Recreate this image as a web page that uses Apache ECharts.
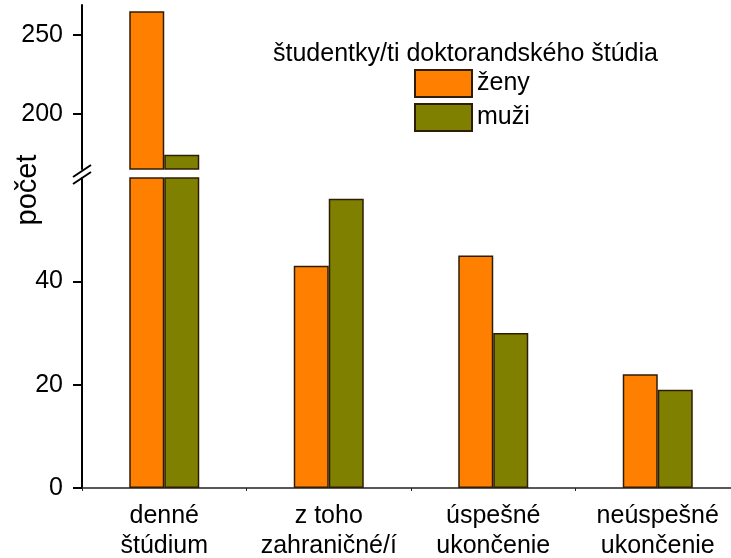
<!DOCTYPE html>
<html>
<head>
<meta charset="utf-8">
<script src="https://cdn.jsdelivr.net/npm/echarts@6/dist/echarts.min.js"></script>
<style>html,body{margin:0;padding:0;background:#fff}#c{width:731px;height:558px}</style>
</head>
<body>
<div id="c"></div>
<script>
const categories = ['denné\nštúdium', 'z toho\nzahraničné/í', 'úspešné\nukončenie', 'neúspešné\nukončenie'];
const zeny = [265, 43, 45, 22];
const muzi = [174, 56, 30, 19];
const seriesNames = ['ženy', 'muži'];
const legendTitle = 'študentky/ti doktorandského štúdia';
const yTitle = 'počet';
const lowerTicks = [0, 20, 40];
const lowerMinor = [10, 30, 50];
const upperTicks = [200, 250];
const upperMinor = [175, 225];

const FONT = "'Liberation Sans', Arial, sans-serif";
const lowerRange = [0, 60];
const upperRange = [165, 269];
const colors = ['#FF8000', '#808000'];
const border = '#2e1c04';

const chart = echarts.init(document.getElementById('c'), null, {renderer: 'canvas'});

function yAx(gi, range, ticks, labels, len, showLine) {
  return {
    type: 'value', gridIndex: gi, min: range[0], max: range[1],
    axisLine: {show: showLine, lineStyle: {color: '#000', width: 2}},
    axisTick: {show: true, inside: false, length: len, customValues: ticks, lineStyle: {color: '#000', width: 2}},
    axisLabel: labels ? {show: true, customValues: ticks, margin: 19, fontSize: 25, color: '#000', fontFamily: FONT} : {show: false},
    splitLine: {show: false}
  };
}

const upperOf = arr => arr.map(v => v > upperRange[0] ? v : '-');

function bar(name, data, xi, yi, color) {
  return {
    name: name, type: 'bar', xAxisIndex: xi, yAxisIndex: yi, data: data,
    barWidth: 35, barGap: '0%', clip: true,
    itemStyle: {color: color, borderColor: border, borderWidth: 1.5}
  };
}

chart.setOption({
  animation: false,
  textStyle: {fontFamily: FONT},
  title: {
    text: legendTitle, left: 268, top: 37,
    textStyle: {fontSize: 25, fontWeight: 'normal', color: '#000', fontFamily: FONT}
  },
  legend: {
    orient: 'vertical', left: 409, top: 64, itemWidth: 57, itemHeight: 27, itemGap: 5,
    icon: 'rect', data: seriesNames,
    textStyle: {fontSize: 25, color: '#000', fontFamily: FONT}
  },
  grid: [
    {left: 82, top: 178, width: 658, height: 310, outerBoundsMode: 'none', containLabel: false},
    {left: 82, top: 5, width: 658, height: 164, outerBoundsMode: 'none', containLabel: false}
  ],
  xAxis: [
    {
      type: 'category', gridIndex: 0, data: categories,
      axisLine: {lineStyle: {color: '#222', width: 1.5}},
      axisTick: {show: true, length: 3, lineStyle: {color: '#222'}},
      axisLabel: {fontSize: 25, lineHeight: 30, color: '#000', margin: 13, fontFamily: FONT, interval: 0}
    },
    {
      type: 'category', gridIndex: 1, data: categories,
      axisLine: {show: false}, axisTick: {show: false}, axisLabel: {show: false}
    }
  ],
  yAxis: [
    yAx(0, lowerRange, lowerTicks, true, 9, true),
    yAx(0, lowerRange, lowerMinor, false, 5, false),
    yAx(1, upperRange, upperTicks, true, 9, true),
    yAx(1, upperRange, upperMinor, false, 5, false)
  ],
  graphic: [
    {type: 'text', x: 28, y: 190, rotation: Math.PI / 2,
     style: {text: yTitle, fontSize: 29, fill: '#000', fontFamily: FONT, align: 'center', verticalAlign: 'middle'}},
    {type: 'line', shape: {x1: 73, y1: 177, x2: 91, y2: 165}, style: {stroke: '#000', lineWidth: 2}},
    {type: 'line', shape: {x1: 73, y1: 184, x2: 91, y2: 172}, style: {stroke: '#000', lineWidth: 2}}
  ],
  series: [
    bar(seriesNames[0], zeny, 0, 0, colors[0]),
    bar(seriesNames[1], muzi, 0, 0, colors[1]),
    bar(seriesNames[0], upperOf(zeny), 1, 2, colors[0]),
    bar(seriesNames[1], upperOf(muzi), 1, 2, colors[1])
  ]
});
</script>
</body>
</html>
